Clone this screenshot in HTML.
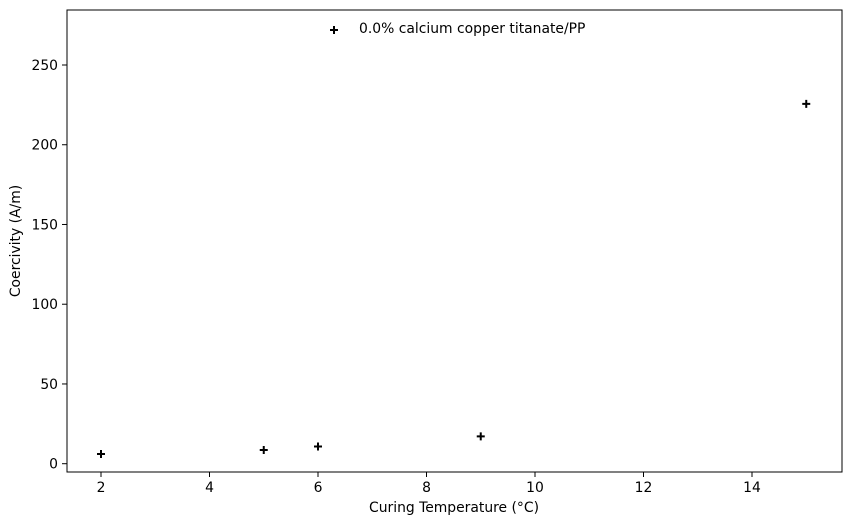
<!DOCTYPE html>
<html><head><meta charset="utf-8"><style>body{margin:0;background:#fff}svg{display:block;font-family:"DejaVu Sans","Liberation Sans",sans-serif}</style></head>
<body>
<svg id="chart" width="850" height="525">
<rect x="67" y="10" width="775" height="462" fill="none" stroke="#000" stroke-width="1"/>
<g id="ticks"></g>
<g id="marks"></g>
<text x="454" y="512" font-size="13.9" text-anchor="middle">Curing Temperature (°C)</text>
<text transform="translate(20,241) rotate(-90)" font-size="13.9" text-anchor="middle">Coercivity (A/m)</text>
<g>
<path d="M330 30h8M334 26v8" stroke="#000" stroke-width="2"/>
<text x="359" y="33" font-size="13.9">0.0% calcium copper titanate/PP</text>
</g>
</svg>
<script>
const temps = [2, 5, 6, 9, 15];
const coercivity = [6.1, 8.6, 10.8, 17.1, 225.6];
const xTicks = [2, 4, 6, 8, 10, 12, 14];
const yTicks = [0, 50, 100, 150, 200, 250];
const NS = "http://www.w3.org/2000/svg";
const xs = v => 101 + (v - 2) * (752 - 101) / 12;
const ys = v => 463.7 - v * (463.7 - 65) / 250;
const tg = document.getElementById("ticks"), mg = document.getElementById("marks");
function mk(tag, attrs, parent){const e=document.createElementNS(NS,tag);for(const k in attrs)e.setAttribute(k,attrs[k]);parent.appendChild(e);return e;}
xTicks.forEach(t=>{
  const l=mk("line",{x1:xs(t),x2:xs(t),y1:472,y2:477,stroke:"#000"},tg);
  
  
  const tx=mk("text",{x:xs(t),y:492,"font-size":13.9,"text-anchor":"middle"},tg);tx.textContent=t;
  
  
});
yTicks.forEach(t=>{
  const l=mk("line",{x1:62,x2:67,y1:ys(t),y2:ys(t),stroke:"#000"},tg);
  
  
  const tx=mk("text",{x:58,y:ys(t)+5,"font-size":13.9,"text-anchor":"end"},tg);tx.textContent=t;
  
  
});
temps.forEach((t,i)=>{
  const x=xs(t),y=ys(coercivity[i]);
  const p=mk("path",{d:`M${x-4} ${y}h8M${x} ${y-4}v8`,stroke:"#000","stroke-width":2},mg);
  
  
});
</script>
</body></html>
